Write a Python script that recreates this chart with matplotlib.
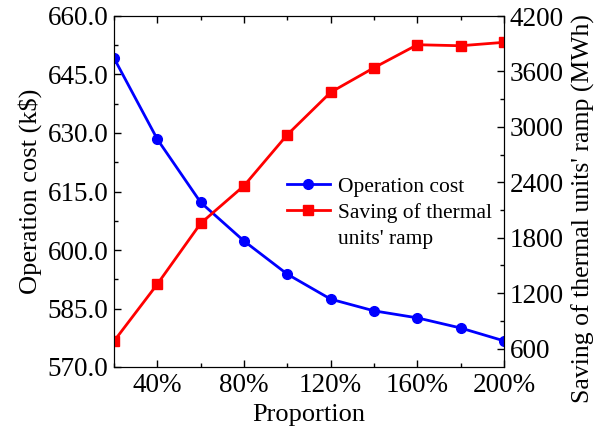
import matplotlib
matplotlib.use("Agg")
import matplotlib.pyplot as plt
from matplotlib.lines import Line2D
from matplotlib.ticker import MultipleLocator, FormatStrFormatter, FuncFormatter

plt.rcParams['font.family'] = ['Liberation Serif', 'DejaVu Serif']
plt.rcParams['mathtext.fontset'] = 'stix'

proportion = [20, 40, 60, 80, 100, 120, 140, 160, 180, 200]
operation_cost = [649.2, 628.4, 612.2, 602.3, 593.8, 587.4, 584.4, 582.6, 580.0, 576.7]
ramp_saving = [680, 1297, 1955, 2362, 2915, 3374, 3640, 3889, 3878, 3915]
x_ticks = [40, 80, 120, 160, 200]

fig = plt.figure(figsize=(6.05, 4.28), dpi=100)
ax = fig.add_axes([114/605, 1-367/428, (504-114)/605, (367-16)/428])
ax2 = ax.twinx()

l1, = ax.plot(proportion, operation_cost, color='#0000ff', marker='o', markersize=7, lw=2, label='Operation cost')
l2, = ax2.plot(proportion, ramp_saving, color='#ff0000', marker='s', markersize=6.5, lw=2, label="Saving of thermal")
blank = Line2D([], [], linestyle='none', marker='none')

ax.set_xlim(20, 200)
ax.set_ylim(570, 660)
ax2.set_ylim(400, 4200)

ax.set_xticks(x_ticks)
ax.xaxis.set_minor_locator(MultipleLocator(20))
ax.xaxis.set_major_formatter(FuncFormatter(lambda v, p: f"{int(v)}%"))
ax.yaxis.set_major_locator(MultipleLocator(15))
ax.yaxis.set_minor_locator(MultipleLocator(7.5))
ax.yaxis.set_major_formatter(FormatStrFormatter('%.1f'))
ax2.yaxis.set_major_locator(MultipleLocator(600))
ax2.yaxis.set_minor_locator(MultipleLocator(300))

fs = 19.5
ax.tick_params(axis='both', which='both', direction='in', labelsize=fs)
ax.tick_params(axis='x', which='both', top=True)
ax.tick_params(which='major', length=5, width=1)
ax.tick_params(which='minor', length=3, width=1)
ax.tick_params(axis='y', pad=4)
ax.tick_params(axis='x', pad=4)
ax2.tick_params(axis='y', which='both', direction='in', labelsize=fs, pad=4)
ax2.tick_params(which='major', length=5, width=1)
ax2.tick_params(which='minor', length=3, width=1)

ax.set_xlabel('Proportion', fontsize=19, labelpad=4.5)
ax.set_ylabel('Operation cost (k$)', fontsize=19, labelpad=4)
ax2.set_ylabel("Saving of thermal units' ramp (MWh)", fontsize=18.5)
ax2.yaxis.set_label_coords((572 - 114) / 390, (367 - 209) / 351)

leg = ax.legend(handles=[l1, l2, blank], labels=['Operation cost', 'Saving of thermal', "units' ramp"],
                loc='upper left', bbox_to_anchor=(0.415, 0.573),
                frameon=False, fontsize=15.5, handlelength=2.0, labelspacing=0.28,
                borderpad=0, handletextpad=0.4)

fig.savefig('out.png', dpi=100)
